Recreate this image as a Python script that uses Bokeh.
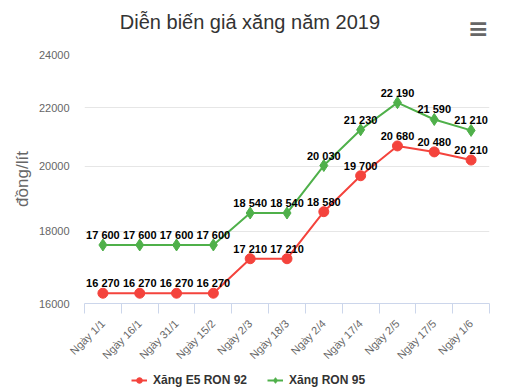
import math
from bokeh.plotting import figure
from bokeh.layouts import column
from bokeh.models import (Range1d, FixedTicker, PrintfTickFormatter, CustomJSTickFormatter,
                          Legend, LegendItem, Label, ColumnDataSource)
from bokeh.core.properties import value
from bokeh.embed import file_html
from bokeh.resources import INLINE

categories = ["Ngày 1/1", "Ngày 16/1", "Ngày 31/1", "Ngày 15/2", "Ngày 2/3", "Ngày 18/3",
              "Ngày 2/4", "Ngày 17/4", "Ngày 2/5", "Ngày 17/5", "Ngày 1/6"]
e5_ron92 = [16270, 16270, 16270, 16270, 17210, 17210, 18580, 19700, 20680, 20480, 20210]
ron95 = [17600, 17600, 17600, 17600, 18540, 18540, 20030, 21230, 22190, 21590, 21210]
y_ticks = [16000, 18000, 20000, 22000, 24000]
series_names = ["Xăng E5 RON 92", "Xăng RON 95"]
title_text = "Diễn biến giá xăng năm 2019"

FONT = "Liberation Sans"
RED = "#f4433c"
GREEN = "#4fb04a"
W = 497
# frames of the stacked figures are aligned: header/legend coordinates follow the page x
FRAME_X = (85, 489)


def blank(height):
    f = figure(width=W, height=height, output_backend="svg", toolbar_location=None,
               x_range=Range1d(*FRAME_X), y_range=Range1d(0, height),
               x_axis_location=None, y_axis_location=None,
               min_border_left=0, min_border_right=0, min_border_top=0, min_border_bottom=0)
    f.grid.visible = False
    f.outline_line_color = None
    f.background_fill_color = "white"
    f.border_fill_color = "white"
    return f


# ---- header (title + menu icon)
header = blank(44)
header.add_layout(Label(x=250, y=23, text=title_text, text_align="center",
                        text_baseline="middle", text_font=FONT, text_font_size="20px",
                        text_color="#333333"))
header.add_layout(Label(x=478, y=16, text="≡", text_align="center", text_baseline="middle",
                        text_font="DejaVu Sans", text_font_size="25px",
                        text_font_style="bold", text_color="#666666"))

# ---- main chart
p = figure(width=W, height=325, output_backend="svg", toolbar_location=None,
           y_axis_type="log", x_range=Range1d(0, len(categories)),
           y_range=Range1d(16000, 24000),
           min_border_left=84, min_border_right=8, min_border_top=10, min_border_bottom=66)
p.outline_line_color = None
p.background_fill_color = "white"
p.border_fill_color = "white"

xs = [i + 0.5 for i in range(len(categories))]


def fmt(v):
    return f"{v:,}".replace(",", " ")


src_r = ColumnDataSource(dict(x=xs, y=e5_ron92, t=[fmt(v) for v in e5_ron92]))
src_g = ColumnDataSource(dict(x=xs, y=ron95, t=[fmt(v) for v in ron95]))

p.line("x", "y", source=src_r, line_color=RED, line_width=2)
p.scatter("x", "y", source=src_r, marker="circle", size=10, fill_color=RED, line_color=RED)
p.line("x", "y", source=src_g, line_color=GREEN, line_width=2)
p.scatter("x", "y", source=src_g, marker="diamond", size=12, fill_color=GREEN, line_color=GREEN)

for src in (src_r, src_g):
    p.text("x", "y", text="t", source=src, text_align="center", text_baseline="bottom",
           y_offset=-4, text_font=value(FONT), text_font_size="11px",
           text_font_style="bold", text_color="black")

p.xgrid.visible = False
p.ygrid.ticker = FixedTicker(ticks=y_ticks)
p.ygrid.grid_line_color = "#e6e6e6"

yax = p.yaxis[0]
yax.ticker = FixedTicker(ticks=y_ticks)
yax.formatter = PrintfTickFormatter(format="%d")
yax.axis_line_color = None
yax.major_tick_out = 0
yax.major_tick_in = 0
yax.minor_tick_out = 0
yax.minor_tick_in = 0
yax.major_label_standoff = 15
yax.major_label_text_font = FONT
yax.major_label_text_font_size = "11px"
yax.major_label_text_color = "#666666"
yax.axis_label = "đồng/lít"
yax.axis_label_text_font = FONT
yax.axis_label_text_font_size = "17px"
yax.axis_label_text_font_style = "normal"
yax.axis_label_text_color = "#666666"
yax.axis_label_standoff = 4

xax = p.xaxis[0]
xax.ticker = FixedTicker(ticks=xs, minor_ticks=list(range(len(categories) + 1)))
xax.formatter = CustomJSTickFormatter(args=dict(labels=categories),
                                      code="return labels[Math.floor(tick)];")
xax.axis_line_color = "#ccd6eb"
xax.major_tick_out = 0
xax.major_tick_in = 0
xax.minor_tick_out = 10
xax.minor_tick_in = 0
xax.minor_tick_line_color = "#ccd6eb"
xax.major_label_orientation = math.pi / 4
xax.major_label_standoff = 8
xax.major_label_text_font = FONT
xax.major_label_text_font_size = "11px"
xax.major_label_text_color = "#666666"

# ---- legend strip (series drawn off-range here; only their legend glyphs show)
leg = blank(20)
l1 = leg.line("x", "y", source=src_r, line_color=RED, line_width=2)
m1 = leg.scatter("x", "y", source=src_r, marker="circle", size=10, fill_color=RED, line_color=RED)
l2 = leg.line("x", "y", source=src_g, line_color=GREEN, line_width=2)
m2 = leg.scatter("x", "y", source=src_g, marker="diamond", size=12, fill_color=GREEN, line_color=GREEN)
legend = Legend(items=[LegendItem(label=series_names[0], renderers=[l1, m1]),
                       LegendItem(label=series_names[1], renderers=[l2, m2])],
                orientation="horizontal", location=(47, 2),
                border_line_color=None, background_fill_alpha=0,
                label_text_font=FONT, label_text_font_size="12px",
                label_text_font_style="bold", label_text_color="#333333",
                glyph_width=16, glyph_height=14, spacing=20, padding=0, margin=0,
                label_standoff=6)
leg.add_layout(legend, "center")

layout = column(header, p, leg, spacing=0)
open("out.html", "w").write(file_html(layout, INLINE))
